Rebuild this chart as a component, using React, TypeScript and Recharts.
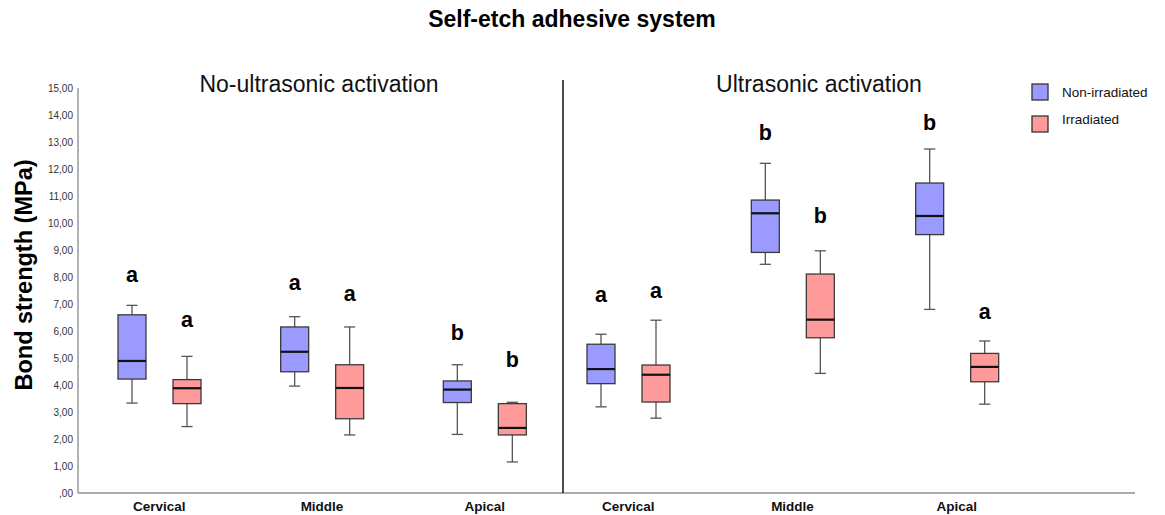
import React from 'react';
import { ComposedChart, Bar, XAxis, YAxis } from 'recharts';

// Categories
const regions = ['Cervical', 'Middle', 'Apical'];

// Box-plot statistics per region: [min, Q1, median, Q3, max] (MPa)
const noUsNonIrr = [
  [3.33, 4.22, 4.89, 6.6, 6.95],
  [3.96, 4.49, 5.23, 6.15, 6.53],
  [2.17, 3.35, 3.83, 4.15, 4.75],
];
const noUsIrr = [
  [2.46, 3.31, 3.88, 4.2, 5.06],
  [2.15, 2.75, 3.89, 4.75, 6.15],
  [1.15, 2.15, 2.41, 3.31, 3.36],
];
const usNonIrr = [
  [3.19, 4.05, 4.59, 5.51, 5.88],
  [8.47, 8.91, 10.36, 10.85, 12.21],
  [6.8, 9.57, 10.26, 11.48, 12.74],
];
const usIrr = [
  [2.77, 3.37, 4.38, 4.74, 6.4],
  [4.43, 5.75, 6.42, 8.11, 8.97],
  [3.29, 4.12, 4.67, 5.17, 5.63],
];

// Significance letters and the height (MPa) at which each is written
const noUsNonIrrLetters = ['a', 'a', 'b'];
const noUsIrrLetters = ['a', 'a', 'b'];
const usNonIrrLetters = ['a', 'b', 'b'];
const usIrrLetters = ['a', 'b', 'a'];
const noUsNonIrrLetterAt = [7.83, 7.53, 5.68];
const noUsIrrLetterAt = [6.16, 7.12, 4.66];
const usNonIrrLetterAt = [7.09, 13.07, 13.46];
const usIrrLetterAt = [7.22, 9.99, 6.44];

const yTicks = [0, 1, 2, 3, 4, 5, 6, 7, 8, 9, 10, 11, 12, 13, 14, 15];

const chartTitle = 'Self-etch adhesive system';
const panelTitles = ['No-ultrasonic activation', 'Ultrasonic activation'];
const yLabel = 'Bond strength (MPa)';
const seriesNames = ['Non-irradiated', 'Irradiated'];

const BLUE = '#9a9aff';
const RED = '#ff9a9a';
const FONT = '"Liberation Sans", Arial, Helvetica, sans-serif';

type Group = { stats: number[]; letter: string; letterAt: number };
type Row = { region: string; non: Group; irr: Group };

function buildRows(
  non: number[][],
  irr: number[][],
  nonL: string[],
  irrL: string[],
  nonLA: number[],
  irrLA: number[]
): Row[] {
  return regions.map((r, i) => ({
    region: r,
    non: { stats: non[i], letter: nonL[i], letterAt: nonLA[i] },
    irr: { stats: irr[i], letter: irrL[i], letterAt: irrLA[i] },
  }));
}

const leftRows = buildRows(noUsNonIrr, noUsIrr, noUsNonIrrLetters, noUsIrrLetters, noUsNonIrrLetterAt, noUsIrrLetterAt);
const rightRows = buildRows(usNonIrr, usIrr, usNonIrrLetters, usIrrLetters, usNonIrrLetterAt, usIrrLetterAt);

function makeBoxShape(key: 'non' | 'irr', fill: string, rows: Row[]) {
  return (props: any) => {
    const { x, y, width, height, index } = props;
    const row: Row = (props.payload && props.payload[key]) ? props.payload : rows[index];
    const g = row[key];
    const [mn, q1, md, q3, mx] = g.stats;
    const ppu = height / (mx - mn);
    const py = (v: number) => y + (mx - v) * ppu;
    const cx = x + width / 2;
    const cap = width * 0.4;
    return (
      <g>
        <line x1={cx} x2={cx} y1={py(mx)} y2={py(q3)} stroke="#555" strokeWidth={1.3} />
        <line x1={cx} x2={cx} y1={py(q1)} y2={py(mn)} stroke="#555" strokeWidth={1.3} />
        <line x1={cx - cap / 2} x2={cx + cap / 2} y1={py(mx)} y2={py(mx)} stroke="#555" strokeWidth={1.3} />
        <line x1={cx - cap / 2} x2={cx + cap / 2} y1={py(mn)} y2={py(mn)} stroke="#555" strokeWidth={1.3} />
        <rect x={x} y={py(q3)} width={width} height={py(q1) - py(q3)} fill={fill} stroke="#3a3a3a" strokeWidth={1.3} />
        <line x1={x} x2={x + width} y1={py(md)} y2={py(md)} stroke="#111" strokeWidth={2.2} />
        <text x={cx} y={py(g.letterAt)} textAnchor="middle" fontWeight="bold" fontSize={21.5} fill="#000" fontFamily={FONT}>
          {g.letter}
        </text>
      </g>
    );
  };
}

const XTick = (p: any) => (
  <text x={p.x} y={p.y + 18} textAnchor="middle" fontWeight="bold" fontSize={13.5} fill="#111" fontFamily={FONT}>
    {p.payload.value}
  </text>
);

const fmtY = (v: number) => (v === 0 ? ',00' : v.toFixed(2).replace('.', ','));

export default function App() {
  return (
    <div style={{ position: 'relative', width: 1165, height: 515, background: '#fff', fontFamily: FONT }}>
      <style>{'body{margin:0;background:#fff}'}</style>
      <div style={{ position: 'absolute', left: 0, top: 0 }}>
        <ComposedChart width={566} height={515} data={leftRows} margin={{ top: 88, right: 0, bottom: 0, left: 0 }} barSize={28} barGap={27}>
          <YAxis
            width={78}
            domain={[0, 15]}
            ticks={yTicks}
            interval={0}
            tickFormatter={fmtY}
            tickLine={false}
            tickSize={0}
            tickMargin={5}
            axisLine={{ stroke: '#999', strokeWidth: 1.5 }}
            tick={{ fontSize: 10, fill: '#333', fontFamily: FONT }}
          />
          <XAxis
            dataKey="region"
            height={22}
            interval={0}
            tickLine={false}
            tickSize={0}
            tickMargin={0}
            axisLine={{ stroke: '#aaa', strokeWidth: 2 }}
            tick={<XTick />}
          />
          <Bar dataKey={(d: Row) => [d.non.stats[0], d.non.stats[4]]} name={seriesNames[0]} shape={makeBoxShape('non', BLUE, leftRows)} isAnimationActive={false} />
          <Bar dataKey={(d: Row) => [d.irr.stats[0], d.irr.stats[4]]} name={seriesNames[1]} shape={makeBoxShape('irr', RED, leftRows)} isAnimationActive={false} />
        </ComposedChart>
      </div>
      <div style={{ position: 'absolute', left: 546, top: 0 }}>
        <ComposedChart width={589} height={515} data={rightRows} margin={{ top: 88, right: 0, bottom: 0, left: 0 }} barSize={28} barGap={27}>
          <YAxis hide domain={[0, 15]} ticks={yTicks} />
          <XAxis
            dataKey="region"
            height={22}
            interval={0}
            tickLine={false}
            tickSize={0}
            tickMargin={0}
            padding={{ left: 0, right: 96 }}
            axisLine={{ stroke: '#aaa', strokeWidth: 2 }}
            tick={<XTick />}
          />
          <Bar dataKey={(d: Row) => [d.non.stats[0], d.non.stats[4]]} name={seriesNames[0]} shape={makeBoxShape('non', BLUE, rightRows)} isAnimationActive={false} />
          <Bar dataKey={(d: Row) => [d.irr.stats[0], d.irr.stats[4]]} name={seriesNames[1]} shape={makeBoxShape('irr', RED, rightRows)} isAnimationActive={false} />
        </ComposedChart>
      </div>
      <svg width={1165} height={515} style={{ position: 'absolute', left: 0, top: 0, pointerEvents: 'none' }}>
        <text x={572} y={27} textAnchor="middle" fontWeight="bold" fontSize={23} fill="#000" fontFamily={FONT}>
          {chartTitle}
        </text>
        <text x={319} y={92} textAnchor="middle" fontSize={23} fill="#111" fontFamily={FONT}>
          {panelTitles[0]}
        </text>
        <text x={819} y={92} textAnchor="middle" fontSize={23} fill="#111" fontFamily={FONT}>
          {panelTitles[1]}
        </text>
        <text transform="translate(32,275) rotate(-90)" x={0} y={0} textAnchor="middle" fontWeight="bold" fontSize={23.5} fill="#000" fontFamily={FONT}>
          {yLabel}
        </text>
        <line x1={563} x2={563} y1={80} y2={493} stroke="#111" strokeWidth={1.5} />
        <rect x={1032} y={84} width={16} height={16} fill={BLUE} stroke="#333" strokeWidth={1.3} />
        <text x={1062} y={97} fontSize={13.5} fill="#111" fontFamily={FONT}>{seriesNames[0]}</text>
        <rect x={1032} y={116} width={16} height={16} fill={RED} stroke="#333" strokeWidth={1.3} />
        <text x={1062} y={124} fontSize={13.5} fill="#111" fontFamily={FONT}>{seriesNames[1]}</text>
      </svg>
    </div>
  );
}
